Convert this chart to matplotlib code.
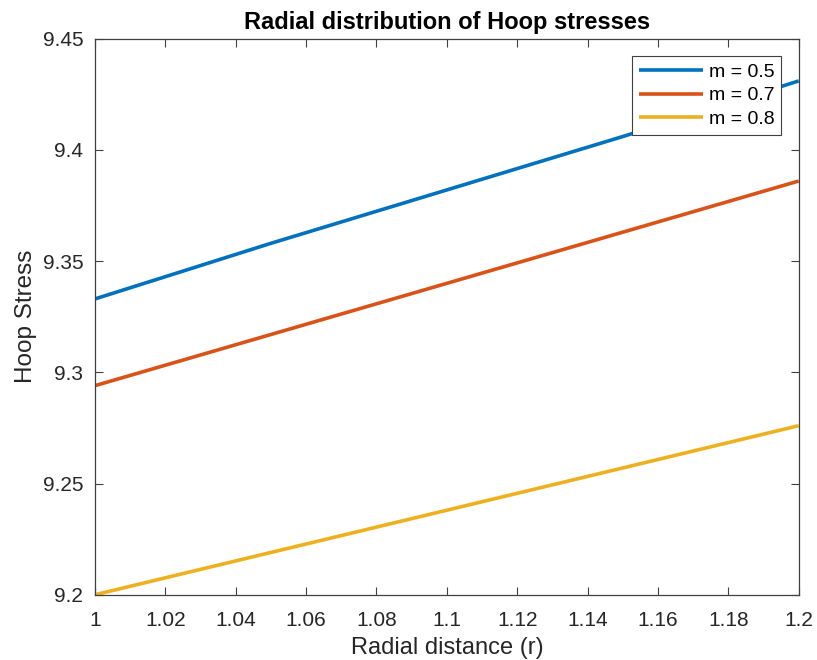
import matplotlib
matplotlib.use("Agg")
import matplotlib.pyplot as plt

# hoop stress vs radial distance for three values of m
r = [1.00, 1.05, 1.10, 1.15, 1.20]
hoop_m05 = [9.333, 9.358, 9.382, 9.406, 9.431]
hoop_m07 = [9.294, 9.317, 9.340, 9.363, 9.386]
hoop_m08 = [9.200, 9.219, 9.238, 9.257, 9.276]
labels = ["m = 0.5", "m = 0.7", "m = 0.8"]

xticks = [1, 1.02, 1.04, 1.06, 1.08, 1.1, 1.12, 1.14, 1.16, 1.18, 1.2]
xtick_labels = ["1", "1.02", "1.04", "1.06", "1.08", "1.1", "1.12", "1.14", "1.16", "1.18", "1.2"]
yticks = [9.2, 9.25, 9.3, 9.35, 9.4, 9.45]
ytick_labels = ["9.2", "9.25", "9.3", "9.35", "9.4", "9.45"]

COLORS = ["#0072BD", "#D95319", "#EDB120"]
AXCOL = "#404040"
TXTCOL = "#262626"

plt.rcParams["font.family"] = ["Liberation Sans", "DejaVu Sans"]

fig = plt.figure(figsize=(8.17, 6.6), dpi=100)
ax = fig.add_axes([0.1163, 0.0989, 0.8613, 0.8425])

for ys, c, lab in zip([hoop_m05, hoop_m07, hoop_m08], COLORS, labels):
	ax.plot(r, ys, color=c, lw=2.6, label=lab, solid_capstyle="butt")

ax.set_xlim(1, 1.2)
ax.set_ylim(9.2, 9.45)
ax.set_xticks(xticks)
ax.set_xticklabels(xtick_labels)
ax.set_yticks(yticks)
ax.set_yticklabels(ytick_labels)
ax.tick_params(direction="in", length=6, width=0.8, colors=AXCOL,
	labelcolor=TXTCOL, labelsize=15, top=True, right=True)
ax.tick_params(axis="x", pad=11.5)
ax.tick_params(axis="y", pad=8.5)
for s in ax.spines.values():
	s.set_color(AXCOL)
	s.set_linewidth(0.9)

ax.set_title("Radial distribution of Hoop stresses", fontsize=17, fontweight="bold", pad=7)
ax.set_xlabel("Radial distance (r)", fontsize=17, color=TXTCOL, labelpad=5)
ax.set_ylabel("Hoop Stress", fontsize=17.5, color=TXTCOL, labelpad=4)

leg = ax.legend(loc="upper right", fontsize=14, fancybox=False, framealpha=1,
	edgecolor=AXCOL, borderaxespad=0.9, handlelength=3.3, handletextpad=0.3,
	labelspacing=0.32, borderpad=0.35)
leg.get_frame().set_linewidth(0.8)

fig.savefig("out.png", dpi=100)
